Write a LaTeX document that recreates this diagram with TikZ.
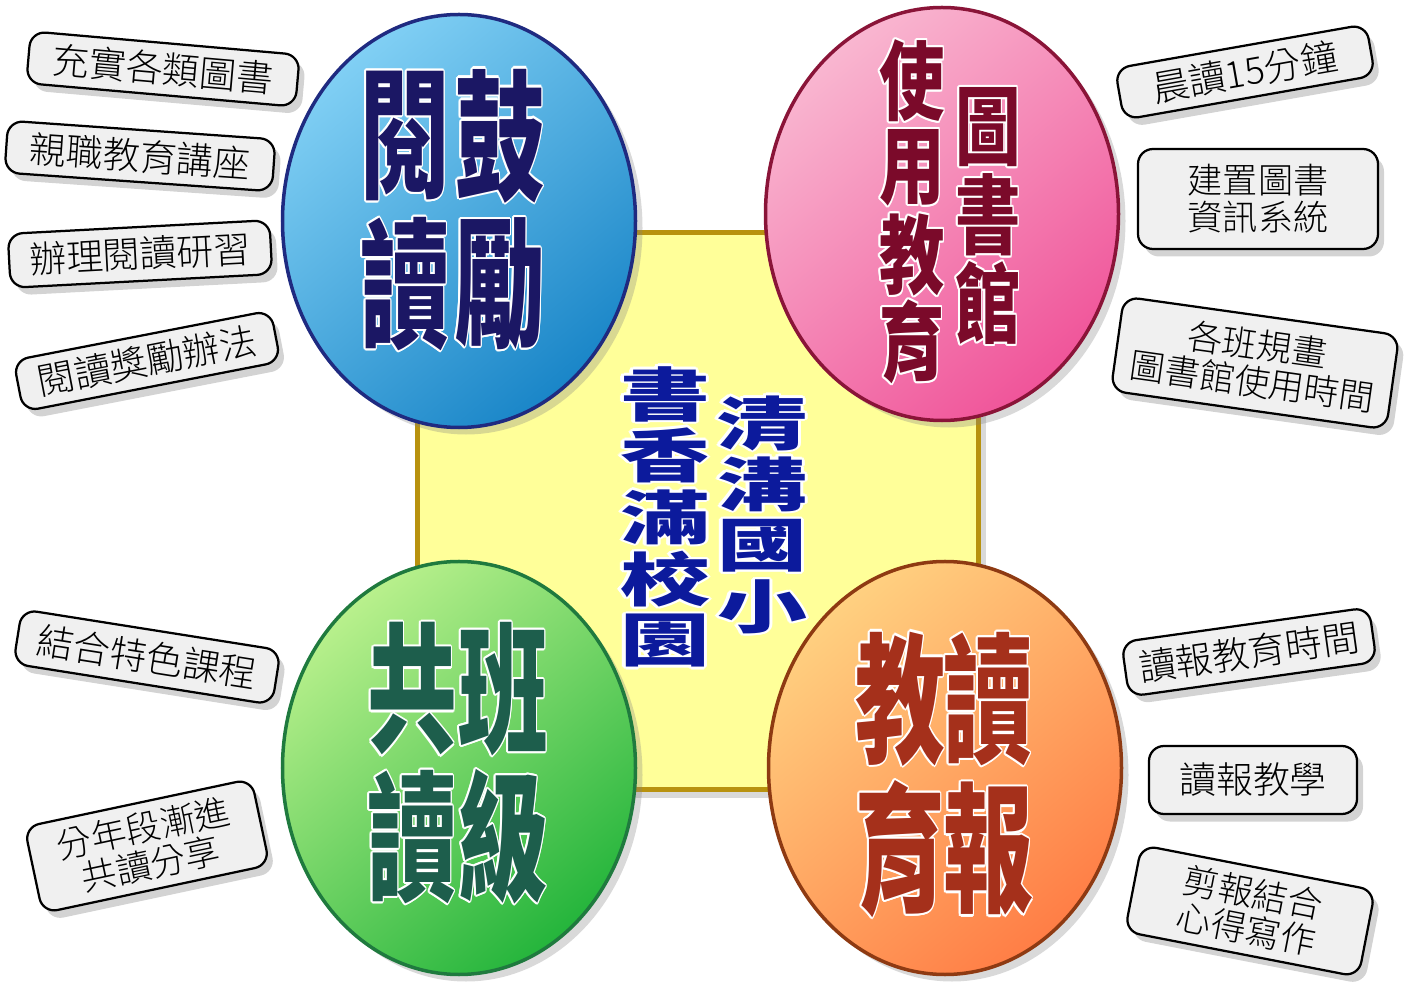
\documentclass[tikz,border=0pt]{standalone}
\usepackage{fontspec}
\usepackage{contour}
\usetikzlibrary{shapes.geometric,shadows}
\newfontfamily\cjk{Noto Sans CJK TC}
\newfontfamily\cjklight{Noto Sans CJK TC Light}
\contourlength{1.2pt}
\contournumber{12}
\definecolor{hubfill}{HTML}{FFFF99}
\definecolor{hubline}{HTML}{B8920F}
\definecolor{hubtext}{HTML}{0C1A9C}
\definecolor{bluetext}{HTML}{1B1764}
\definecolor{bluetop}{HTML}{80CFF4}
\definecolor{bluebot}{HTML}{1A86C8}
\definecolor{blueline}{HTML}{1F2A80}
\definecolor{pinktext}{HTML}{7B0A2A}
\definecolor{pinktop}{HTML}{F9B6D0}
\definecolor{pinkbot}{HTML}{F0559A}
\definecolor{pinkline}{HTML}{8A1438}
\definecolor{greentext}{HTML}{1D5E4C}
\definecolor{greentop}{HTML}{B8F08C}
\definecolor{greenbot}{HTML}{25B53C}
\definecolor{greenline}{HTML}{1F7A3E}
\definecolor{orangetext}{HTML}{A5301B}
\definecolor{orangetop}{HTML}{FFD080}
\definecolor{orangebot}{HTML}{FF7E46}
\definecolor{orangeline}{HTML}{8E3A12}

\begin{document}
\begin{tikzpicture}[x=0.2mm, y=-0.2mm,
    tag/.style={draw=black, line width=0.45mm, fill=gray!12, rounded corners=3mm, align=center, inner sep=1mm,
        font=\cjklight\fontsize{21}{21}\selectfont,
        drop shadow={shadow xshift=1.2mm, shadow yshift=-1.5mm, opacity=0.35}},
    tagtwo/.style={tag, font=\cjklight\fontsize{20}{21}\selectfont},
    egg/.style={ellipse, line width=0.7mm, minimum width=70.6mm, minimum height=82.6mm,
        drop shadow={shadow xshift=1.4mm, shadow yshift=-1.4mm, opacity=0.3}},
    bigzi/.style={font=\cjk\bfseries\fontsize{80}{80}\selectfont, xscale=0.64, transform shape, inner sep=0pt},
    midzi/.style={font=\cjk\bfseries\fontsize{49}{49}\selectfont, xscale=0.76, transform shape, inner sep=0pt},
    hubzi/.style={font=\cjk\bfseries\fontsize{33}{33}\selectfont, xscale=1.55, transform shape, inner sep=0pt, text=hubtext}]
    \useasboundingbox (0,0) rectangle (1417,986);

    \node[draw=hubline, line width=1mm, fill=hubfill, minimum width=112mm, minimum height=111.4mm,
        drop shadow={shadow xshift=1.6mm, shadow yshift=-1.6mm, opacity=0.3}] (hub) at (698,511) {};
    \foreach \w/\y [count=\i] in {書/395, 香/456, 滿/518, 校/580, 園/642}
        \node[hubzi] (hub-l\i) at (665,\y) {\contour{white}{\w}};
    \foreach \w/\y [count=\i] in {清/424, 溝/485, 國/547, 小/608}
        \node[hubzi] (hub-r\i) at (762,\y) {\contour{white}{\w}};

    \node[egg, draw=blueline, top color=bluetop, bottom color=bluebot, shading angle=40] (blue) at (459,221) {};
    \node[egg, draw=pinkline, top color=pinktop, bottom color=pinkbot, shading angle=40] (pink) at (942,214) {};
    \node[egg, draw=greenline, top color=greentop, bottom color=greenbot, shading angle=40] (green) at (459,768) {};
    \node[egg, draw=orangeline, top color=orangetop, bottom color=orangebot, shading angle=40] (orange) at (945,768) {};

    \foreach \w/\x/\y [count=\i] in {閱/405/137, 讀/405/285, 鼓/500/137, 勵/500/285}
        \node[bigzi, text=bluetext] (blue-\i) at (\x,\y) {\contour{white}{\w}};
    \foreach \w/\x/\y [count=\i] in {使/912/82, 用/912/169, 教/912/256, 育/912/343, 圖/988/128, 書/988/216, 館/988/304}
        \node[midzi, text=pinktext] (pink-\i) at (\x,\y) {\contour{white}{\w}};
    \foreach \w/\x/\y [count=\i] in {共/412/690, 讀/412/838, 班/503/690, 級/503/838}
        \node[bigzi, text=greentext] (green-\i) at (\x,\y) {\contour{white}{\w}};
    \foreach \w/\x/\y [count=\i] in {教/900/700, 育/900/850, 讀/988/700, 報/988/850}
        \node[bigzi, text=orangetext] (orange-\i) at (\x,\y) {\contour{white}{\w}};

    \node[tag, rotate=-5, minimum width=54mm, minimum height=10.4mm] (tag-1) at (163,69) {充實各類圖書};
    \node[tag, rotate=-4, minimum width=53.6mm, minimum height=10.4mm] (tag-2) at (140,156) {親職教育講座};
    \node[tag, rotate=3, minimum width=52.4mm, minimum height=10.8mm] (tag-3) at (140,254) {辦理閱讀研習};
    \node[tag, rotate=11, minimum width=52.4mm, minimum height=10.4mm] (tag-4) at (147,361) {閱讀獎勵辦法};
    \node[tag, rotate=10, minimum width=51mm, minimum height=10.4mm] (tag-5) at (1245,72) {晨讀15分鐘};
    \node[tagtwo, minimum width=48mm, minimum height=20mm] (tag-6) at (1258,199) {建置圖書\\資訊系統};
    \node[tagtwo, rotate=-8, minimum width=55.6mm, minimum height=19mm] (tag-7) at (1255,363) {各班規畫\\圖書館使用時間};
    \node[tag, rotate=-9, minimum width=52.4mm, minimum height=11mm] (tag-8) at (147,657) {結合特色課程};
    \node[tagtwo, rotate=12, minimum width=46.4mm, minimum height=17.6mm] (tag-9) at (147,846) {分年段漸進\\共讀分享};
    \node[tag, rotate=8, minimum width=50mm, minimum height=11mm] (tag-10) at (1249,652) {讀報教育時間};
    \node[tag, minimum width=41.6mm, minimum height=13.6mm] (tag-11) at (1253,780) {讀報教學};
    \node[tagtwo, rotate=-11, minimum width=47.6mm, minimum height=17.6mm] (tag-12) at (1250,911) {剪報結合\\心得寫作};
\end{tikzpicture}
\end{document}
